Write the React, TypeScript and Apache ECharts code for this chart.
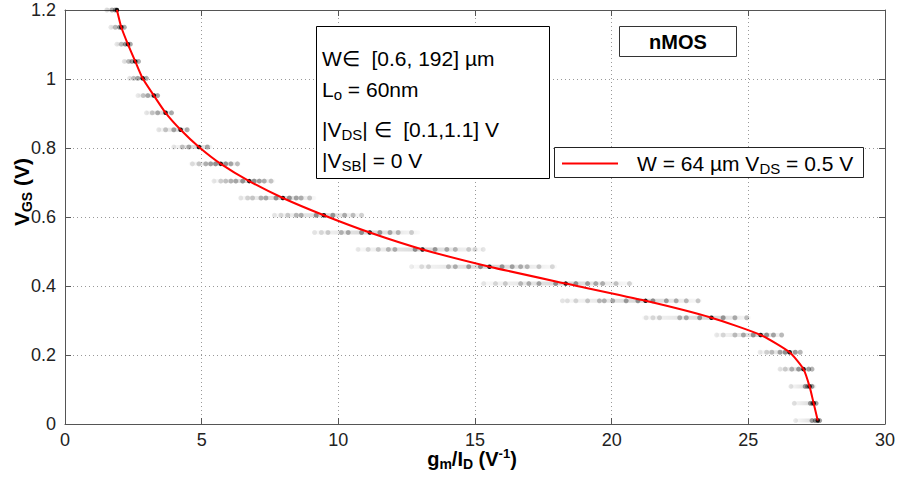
import React, { useEffect, useRef } from 'react';
import * as echarts from 'echarts';

// VGS rows of the sweep (V)
const vgs = [1.2, 1.15, 1.101, 1.051, 1.002, 0.952, 0.902, 0.853, 0.803, 0.754, 0.704, 0.655, 0.605, 0.555, 0.506, 0.456, 0.407, 0.357, 0.308, 0.258, 0.208, 0.159, 0.109, 0.06, 0.01];

// Red curve: W = 64 um, VDS = 0.5 V  (gm/ID, V^-1)
const redCurve = [1.9, 2.06, 2.3, 2.57, 2.84, 3.25, 3.68, 4.23, 4.9, 5.7, 6.74, 7.97, 9.47, 11.15, 13.08, 15.53, 18.32, 21.24, 23.65, 25.45, 26.51, 27.02, 27.24, 27.39, 27.54];

// Extent of the grey sweep band at each row
const bandLo = [1.47, 1.65, 1.87, 2.13, 2.32, 2.65, 2.94, 3.38, 3.93, 4.52, 5.4, 6.36, 7.6, 9.04, 10.66, 12.7, 15.2, 18.1, 21.1, 23.8, 25.4, 26.1, 26.5, 26.6, 26.7];
const bandHi = [1.95, 2.2, 2.43, 2.72, 3.01, 3.46, 3.97, 4.52, 5.4, 6.43, 7.7, 9.2, 10.96, 13.0, 15.3, 18.0, 20.8, 23.3, 25.1, 26.3, 26.9, 27.3, 27.5, 27.5, 27.6];

// Grey sweep points (other W / VDS) at each row
const sweepDots = [
  [1.53, 1.72, 1.84],
  [1.68, 1.84, 2.0, 2.17],
  [1.9, 2.06, 2.21, 2.39],
  [2.17, 2.33, 2.45, 2.69],
  [2.36, 2.51, 2.66, 2.98],
  [2.67, 2.86, 3.03, 3.39],
  [2.98, 3.19, 3.39, 3.9],
  [3.43, 3.68, 3.98, 4.47],
  [3.98, 4.29, 4.53, 5.21],
  [4.66, 4.9, 5.15, 5.33, 5.51, 5.88, 6.07, 6.31],
  [5.45, 5.7, 5.88, 6.07, 6.25, 6.5, 6.92, 7.11, 7.29, 7.54],
  [6.43, 6.68, 6.86, 7.17, 7.35, 7.72, 8.21, 8.46, 8.64, 8.95],
  [7.66, 7.9, 8.15, 8.46, 8.64, 9.19, 9.8, 10.23, 10.54, 10.85],
  [9.13, 9.38, 9.62, 10.11, 10.36, 10.85, 11.52, 11.89, 12.19, 12.68],
  [10.72, 11.09, 11.46, 11.83, 12.07, 12.81, 13.54, 13.97, 14.28, 14.77, 15.0, 15.3],
  [12.68, 13.05, 13.3, 14.03, 14.28, 14.77, 15.2, 15.99, 16.36, 16.67, 16.91, 17.34, 17.83],
  [15.32, 15.75, 16.11, 16.67, 16.97, 17.34, 17.95, 18.69, 19.12, 19.42, 19.67, 20.16, 20.65],
  [18.2, 18.38, 18.69, 19.12, 19.55, 19.73, 20.04, 20.53, 20.96, 21.51, 22.0, 22.36, 22.73, 23.16],
  [21.26, 21.51, 21.75, 22.49, 22.73, 23.22, 24.08, 24.51, 24.94],
  [23.84, 24.08, 24.51, 24.82, 25.18, 25.67, 25.92, 26.22],
  [25.43, 25.67, 25.86, 26.16, 26.35, 26.72, 26.9],
  [26.16, 26.35, 26.59, 26.84, 27.21, 27.33],
  [26.56, 27.08, 27.17, 27.33],
  [26.68, 27.27, 27.35, 27.48],
  [26.73, 27.33, 27.45, 27.61],
];

const xTicks = { min: 0, max: 30, interval: 5 };
const yTicks = { min: 0, max: 1.2, interval: 0.2 };

const FONT = '"Liberation Sans", Arial, Helvetica, sans-serif';

export default function App() {
  const ref = useRef<HTMLDivElement>(null);

  useEffect(() => {
    const chart = echarts.init(ref.current!, null, { renderer: 'svg' });

    const bandData = vgs.map((v, i) => [bandLo[i], bandHi[i], v, redCurve[i]]);

    const dotData: any[] = [];
    vgs.forEach((v, i) => {
      const c = redCurve[i];
      const span = Math.max(c - bandLo[i], bandHi[i] - c, 0.01);
      sweepDots[i].forEach((x) => {
        const d = Math.min(1, Math.abs(x - c) / span);
        dotData.push({ value: [x, v], itemStyle: { opacity: 0.07 + 0.33 * (1 - d) } });
      });
    });

    const centerData = vgs.map((v, i) => [redCurve[i], v]);
    const lineData = vgs.map((v, i) => [redCurve[i], v]);

    const axisLineStyle = { color: '#555', width: 1 };

    const sub = (size: number, lh: number) => ({ fontSize: size, fontFamily: FONT, fill: '#000', lineHeight: lh, verticalAlign: 'bottom' });
    const main = (size: number, lh: number) => ({ fontSize: size, fontFamily: FONT, fill: '#000', lineHeight: lh });

    const boxTextRich = { a: main(21, 26), s: sub(15, 18) };

    const option: any = {
      animation: false,
      backgroundColor: '#fff',
      grid: { left: 65, right: 12, top: 10, bottom: 53, containLabel: false },
      xAxis: [
        {
          type: 'value', ...xTicks, position: 'bottom',
          axisLine: { show: true, onZero: false, lineStyle: axisLineStyle },
          axisTick: { show: true, inside: true, length: 6, lineStyle: axisLineStyle },
          axisLabel: { fontSize: 18, color: '#222', margin: 7, fontFamily: FONT },
          splitLine: { show: true, lineStyle: { type: [1, 3], color: '#999', width: 1 } },
        },
        {
          type: 'value', ...xTicks, position: 'top',
          axisLine: { show: true, onZero: false, lineStyle: axisLineStyle },
          axisTick: { show: true, inside: true, length: 6, lineStyle: axisLineStyle },
          axisLabel: { show: false },
          splitLine: { show: false },
        },
      ],
      yAxis: [
        {
          type: 'value', ...yTicks, position: 'left',
          axisLine: { show: true, onZero: false, lineStyle: axisLineStyle },
          axisTick: { show: true, inside: true, length: 6, lineStyle: axisLineStyle },
          axisLabel: {
            fontSize: 18, color: '#222', margin: 9, fontFamily: FONT,
            formatter: (v: number) => String(Math.round(v * 10) / 10),
          },
          splitLine: { show: true, lineStyle: { type: [1, 3], color: '#999', width: 1 } },
        },
        {
          type: 'value', ...yTicks, position: 'right',
          axisLine: { show: true, onZero: false, lineStyle: axisLineStyle },
          axisTick: { show: true, inside: true, length: 6, lineStyle: axisLineStyle },
          axisLabel: { show: false },
          splitLine: { show: false },
        },
      ],
      series: [
        {
          type: 'custom',
          name: 'band',
          xAxisIndex: 0, yAxisIndex: 0,
          silent: true,
          z: 1,
          data: bandData,
          renderItem: (params: any, api: any) => {
            const lo = api.value(0), hi = api.value(1), y = api.value(2), c = api.value(3);
            const p0 = api.coord([lo, y]);
            const p1 = api.coord([hi, y]);
            let off = (c - lo) / Math.max(hi - lo, 0.001);
            off = Math.max(0.02, Math.min(0.98, off));
            return {
              type: 'rect',
              shape: { x: p0[0], y: p0[1] - 2, width: Math.max(1, p1[0] - p0[0]), height: 4, r: 2 },
              style: {
                fill: new echarts.graphic.LinearGradient(0, 0, 1, 0, [
                  { offset: 0, color: 'rgba(0,0,0,0.02)' },
                  { offset: off, color: 'rgba(0,0,0,0.16)' },
                  { offset: 1, color: 'rgba(0,0,0,0.02)' },
                ]),
              },
            };
          },
        },
        {
          type: 'scatter',
          name: 'sweep',
          silent: true,
          z: 2,
          symbol: 'circle',
          symbolSize: 5,
          itemStyle: { color: '#000' },
          data: dotData,
        },
        {
          type: 'scatter',
          name: 'center',
          silent: true,
          z: 3,
          symbol: 'circle',
          symbolSize: 4.5,
          itemStyle: { color: '#000', opacity: 0.9 },
          data: centerData,
        },
        {
          type: 'line',
          name: 'W = 64 µm VDS = 0.5 V',
          silent: true,
          z: 4,
          showSymbol: false,
          smooth: 0.2,
          lineStyle: { color: '#ff0000', width: 2 },
          data: lineData,
        },
      ],
      graphic: [
        // annotation box
        { type: 'rect', z: 100, shape: { x: 316.5, y: 26.5, width: 233, height: 152 }, style: { fill: '#fff', stroke: '#000', lineWidth: 1 } },
        { type: 'text', z: 101, x: 322, y: 58, style: { text: '{a|W∈  [0.6, 192] µm}', verticalAlign: 'middle', align: 'left', rich: boxTextRich } },
        { type: 'text', z: 101, x: 322, y: 89, style: { text: '{a|L}{s|o}{a| = 60nm}', verticalAlign: 'middle', align: 'left', rich: boxTextRich } },
        { type: 'text', z: 101, x: 322, y: 129, style: { text: '{a||V}{s|DS}{a|| ∈  [0.1,1.1] V}', verticalAlign: 'middle', align: 'left', rich: boxTextRich } },
        { type: 'text', z: 101, x: 322, y: 160, style: { text: '{a||V}{s|SB}{a|| = 0 V}', verticalAlign: 'middle', align: 'left', rich: boxTextRich } },
        // nMOS box
        { type: 'rect', z: 100, shape: { x: 619.5, y: 26.5, width: 117, height: 30 }, style: { fill: '#fff', stroke: '#333', lineWidth: 1 } },
        { type: 'text', z: 101, x: 678, y: 42, style: { text: 'nMOS', fontSize: 20, fontWeight: 'bold', fontFamily: FONT, fill: '#000', align: 'center', verticalAlign: 'middle' } },
        // legend box
        { type: 'rect', z: 100, shape: { x: 554.5, y: 147.5, width: 309, height: 30 }, style: { fill: '#fff', stroke: '#222', lineWidth: 1 } },
        { type: 'line', z: 101, shape: { x1: 562, y1: 163.5, x2: 618, y2: 163.5 }, style: { stroke: '#ff0000', lineWidth: 2 } },
        { type: 'text', z: 101, x: 637, y: 163, style: { text: '{a|W = 64 µm V}{s|DS}{a| = 0.5 V}', verticalAlign: 'middle', align: 'left', rich: boxTextRich } },
        // axis titles
        {
          type: 'text', z: 101, x: 472, y: 459,
          style: {
            text: '{b|g}{s|m}{b|/I}{s|D}{b| (V}{p|-1}{b|)}', align: 'center', verticalAlign: 'middle',
            rich: {
              b: { fontSize: 20, fontWeight: 'bold', fontFamily: FONT, fill: '#000', lineHeight: 24 },
              s: { fontSize: 14, fontWeight: 'bold', fontFamily: FONT, fill: '#000', lineHeight: 16, verticalAlign: 'bottom' },
              p: { fontSize: 13, fontWeight: 'bold', fontFamily: FONT, fill: '#000', lineHeight: 12, verticalAlign: 'top' },
            },
          },
        },
        {
          type: 'text', z: 101, x: 21, y: 192, rotation: Math.PI / 2,
          style: {
            text: '{b|V}{s|GS}{b| (V)}', align: 'center', verticalAlign: 'middle',
            rich: {
              b: { fontSize: 21, fontWeight: 'bold', fontFamily: FONT, fill: '#000', lineHeight: 26 },
              s: { fontSize: 14, fontWeight: 'bold', fontFamily: FONT, fill: '#000', lineHeight: 18, verticalAlign: 'bottom' },
            },
          },
        },
      ],
    };

    chart.setOption(option);
    return () => chart.dispose();
  }, []);

  return <div ref={ref} style={{ position: 'fixed', left: 0, top: 0, width: 898, height: 477, background: '#fff' }} />;
}
